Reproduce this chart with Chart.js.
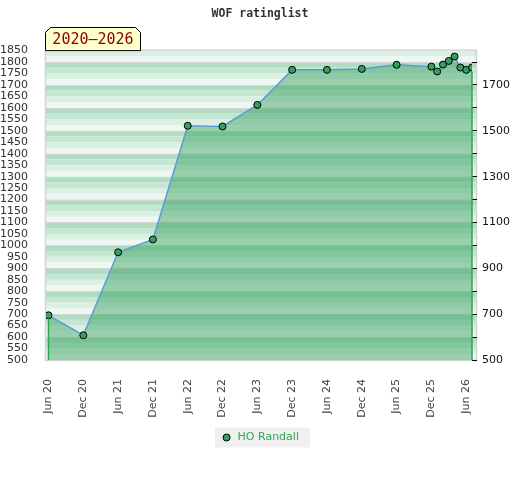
<!DOCTYPE html>
<html><head><meta charset="utf-8">
<script src="https://cdn.jsdelivr.net/npm/chart.js@4.4.1/dist/chart.umd.min.js"></script>
<style>html,body{margin:0;padding:0;background:#fff;}</style>
</head><body>
<canvas id="c" width="520" height="480"></canvas>
<script>
// ---- data ----
const chartTitle = 'WOF ratinglist';
const periodLabel = '2020\u20132026';
const seriesName = 'HO Randall';
const pointMonths = ['2020-06','2020-12','2021-06','2021-12','2022-06','2022-12','2023-06','2023-12','2024-06','2024-12','2025-06','2025-12','2026-01','2026-02','2026-03','2026-04','2026-05','2026-06','2026-07'];
const ratings = [695, 608, 970, 1026, 1522, 1519, 1613, 1766, 1766, 1770, 1788, 1780, 1759, 1789, 1805, 1824, 1776, 1766, 1776];
const xTickMonths = ['2020-06','2020-12','2021-06','2021-12','2022-06','2022-12','2023-06','2023-12','2024-06','2024-12','2025-06','2025-12','2026-06'];
const xTickLabels = ['Jun 20','Dec 20','Jun 21','Dec 21','Jun 22','Dec 22','Jun 23','Dec 23','Jun 24','Dec 24','Jun 25','Dec 25','Jun 26'];
const leftTicks = [500,550,600,650,700,750,800,850,900,950,1000,1050,1100,1150,1200,1250,1300,1350,1400,1450,1500,1550,1600,1650,1700,1750,1800,1850];
const rightTicks = [500,600,700,800,900,1000,1100,1200,1300,1400,1500,1600,1700,1800];
const rightTickLabels = [500,700,900,1100,1300,1500,1700];

function monthIndex(s){ const [y,m] = s.split('-').map(Number); return (y-2020)*12 + (m-6); }

const FONT = 'DejaVu Sans';
const bandColors = ['#b0ddc2','#c5e6d2','#daf0e3','#eef7f2'];

const bgPlugin = {
  id: 'bg',
  beforeDraw(chart){
    const ctx = chart.ctx, ys = chart.scales.y, ca = chart.chartArea;
    const left = ca.left, right = ca.right + 4, top = ca.top, bottom = ca.bottom;
    ctx.save();
    for (let h = 1900; h > 500; h -= 100) {
      for (let k = 0; k < 4; k++) {
        const v1 = Math.min(h - k*25, 1850), v2 = Math.max(h - (k+1)*25, 500);
        if (v1 <= v2) continue;
        const y1 = ys.getPixelForValue(v1), y2 = ys.getPixelForValue(v2);
        ctx.fillStyle = bandColors[k];
        ctx.fillRect(left, y1, right-left, y2-y1);
      }
      if (h <= 1800 && h > 500) {
        const y = Math.round(ys.getPixelForValue(h)) + 0.5;
        ctx.strokeStyle = '#d6d6d6'; ctx.lineWidth = 1;
        ctx.beginPath(); ctx.moveTo(left, y); ctx.lineTo(right, y); ctx.stroke();
      }
    }
    ctx.strokeStyle = '#d4d4d4'; ctx.lineWidth = 1.5;
    ctx.strokeRect(left-0.5, top-0.5, right-left+1, bottom-top+1);
    // legend background
    const lg = chart.legend;
    if (lg && lg.legendHitBoxes && lg.legendHitBoxes.length) {
      const hb = lg.legendHitBoxes[0];
      const cy = hb.top + hb.height/2;
      ctx.fillStyle = '#f0f0f0';
      ctx.fillRect(hb.left - 6, cy - 10, hb.width + 17, 20);
    }
    ctx.restore();
  },
  afterDatasetsDraw(chart){
    const ctx = chart.ctx, ca = chart.chartArea;
    const pts = chart.getDatasetMeta(0).data;
    ctx.save();
    ctx.strokeStyle = '#2ea84f'; ctx.lineWidth = 1.5;
    [pts[0], pts[pts.length-1]].forEach(p => {
      ctx.beginPath(); ctx.moveTo(p.x, p.y + 4); ctx.lineTo(p.x, ca.bottom); ctx.stroke();
    });
    ctx.restore();
  },
  afterDraw(chart){
    const ctx = chart.ctx, ca = chart.chartArea;
    const x0 = ca.left - 0.5, x1 = 140.5, y0 = 27.5, y1 = ca.top, c = 5;
    ctx.save();
    ctx.beginPath();
    ctx.moveTo(x0, y1); ctx.lineTo(x0, y0 + c); ctx.lineTo(x0 + c, y0);
    ctx.lineTo(x1 - c, y0); ctx.lineTo(x1, y0 + c); ctx.lineTo(x1, y1);
    ctx.closePath();
    ctx.fillStyle = '#ffffcc'; ctx.fill();
    ctx.strokeStyle = '#000'; ctx.lineWidth = 1; ctx.stroke();
    ctx.fillStyle = '#8b0000';
    ctx.font = '15px "DejaVu Sans Mono"';
    ctx.textAlign = 'center'; ctx.textBaseline = 'middle';
    ctx.fillText(periodLabel, (x0 + x1)/2, 40);
    ctx.restore();
  }
};

new Chart(document.getElementById('c'), {
  type: 'line',
  data: {
    datasets: [{
      label: seriesName,
      data: pointMonths.map((m, i) => ({x: monthIndex(m), y: ratings[i]})),
      borderColor: '#5b9bd6',
      borderWidth: 1.5,
      backgroundColor: 'rgba(50,157,92,0.45)',
      fill: 'start',
      tension: 0,
      pointRadius: 3.5,
      pointBackgroundColor: '#33a15c',
      pointBorderColor: '#000',
      pointBorderWidth: 1
    }]
  },
  options: {
    responsive: false,
    animation: false,
    devicePixelRatio: 1,
    layout: {padding: {left: 0, right: 0, top: 0, bottom: 27}},
    scales: {
      x: {
        type: 'linear', min: -0.43, max: 73,
        afterBuildTicks: s => { s.ticks = xTickMonths.map(m => ({value: monthIndex(m)})); },
        afterFit: s => { s.height = 62; },
        ticks: {autoSkip: false, maxRotation: 90, minRotation: 90, padding: 11, color: '#444',
                font: {family: FONT, size: 11}, callback: (v, i) => xTickLabels[i]},
        grid: {display: false}, border: {display: false}
      },
      y: {
        position: 'left', min: 500, max: 1850,
        afterBuildTicks: s => { s.ticks = leftTicks.map(v => ({value: v})); },
        afterFit: s => { s.width = 46; },
        ticks: {autoSkip: false, padding: 10, color: '#333', font: {family: FONT, size: 11},
                callback: v => String(v)},
        grid: {display: false}, border: {display: false}
      },
      y2: {
        position: 'right', min: 500, max: 1850,
        afterBuildTicks: s => { s.ticks = rightTicks.map(v => ({value: v})); },
        afterFit: s => { s.width = 48; },
        ticks: {autoSkip: false, padding: 5, color: '#111', font: {family: FONT, size: 11},
                callback: v => rightTickLabels.includes(v) ? String(v) : ''},
        grid: {display: true, drawOnChartArea: false, drawTicks: true, tickLength: 5, color: '#000'},
        border: {display: false}
      }
    },
    plugins: {
      title: {display: true, text: chartTitle, color: '#333',
              font: {family: 'DejaVu Sans Mono', size: 11.5, weight: 'bold'},
              padding: {top: 7, bottom: 29.8}},
      legend: {position: 'bottom',
               labels: {usePointStyle: true, boxWidth: 12, boxHeight: 5, padding: 10,
                        color: '#2ea84f', font: {family: FONT, size: 11}}},
      tooltip: {enabled: false}
    }
  },
  plugins: [bgPlugin]
});
</script>
</body></html>
